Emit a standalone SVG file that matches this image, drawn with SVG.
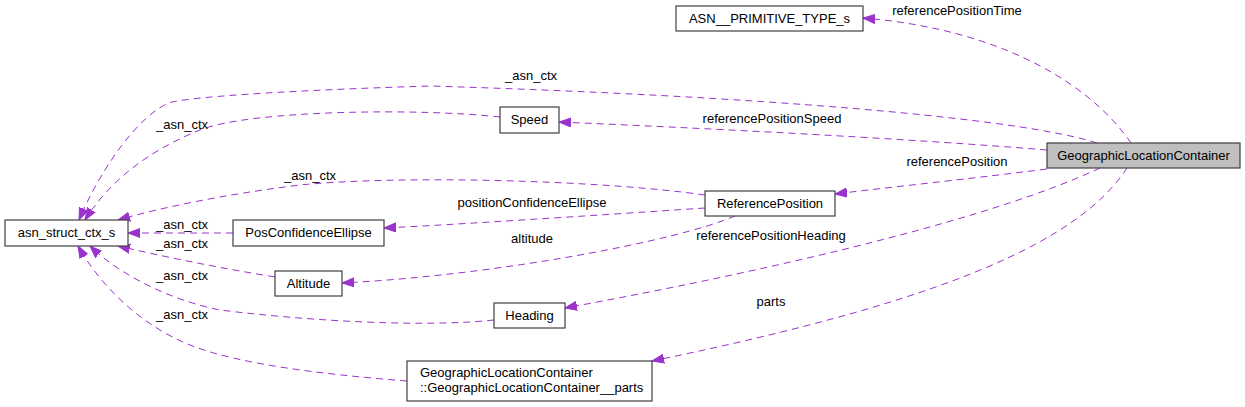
<svg xmlns="http://www.w3.org/2000/svg" width="1245" height="407" viewBox="0 0 1245 407">
<style>
.node rect{fill:#ffffff;stroke:#404040;stroke-width:1.2}
.node text, .lbl{font-family:"Liberation Sans",Arial,sans-serif;font-size:13px;fill:#000}
.node text{text-anchor:middle}
.lbl{text-anchor:middle}
.edge{fill:none;stroke:#9a32cd;stroke-width:1;stroke-dasharray:7,5}
</style>
<defs>
<marker id="arr" markerUnits="userSpaceOnUse" markerWidth="14" markerHeight="11" refX="12" refY="5" orient="auto">
<path d="M0,0.5 L12,5 L0,9.5 z" fill="#9a32cd" stroke="#9a32cd"/>
</marker>
</defs>
<rect width="1245" height="407" fill="#ffffff"/>
<g id="connectors">
<path class="edge" marker-end="url(#arr)" d="M1131,143 C1095,90 1010,30 863,18"/>
<path class="edge" marker-end="url(#arr)" d="M1097,143 C1020,118 760,96 430,86 C300,90 200,96 172,102 C140,112 100,170 79,220"/>
<path class="edge" marker-end="url(#arr)" d="M1047,150 C900,138 700,128 559,122"/>
<path class="edge" marker-end="url(#arr)" d="M1047,169 C960,180 900,186 835,194"/>
<path class="edge" marker-end="url(#arr)" d="M1100,168 C1000,215 800,265 565,308"/>
<path class="edge" marker-end="url(#arr)" d="M1127,168 C1080,240 950,300 652,361"/>
<path class="edge" marker-end="url(#arr)" d="M500,117 C420,108 250,110 200,130 C150,150 110,180 85,220"/>
<path class="edge" marker-end="url(#arr)" d="M705,195 C600,180 400,175 300,185 C220,195 160,208 118,220"/>
<path class="edge" marker-end="url(#arr)" d="M705,208 C600,215 450,225 384,228"/>
<path class="edge" marker-end="url(#arr)" d="M735,216 C680,240 500,275 342,283"/>
<path class="edge" marker-end="url(#arr)" d="M233,233 L128,233"/>
<path class="edge" marker-end="url(#arr)" d="M275,277 C220,268 170,258 118,246"/>
<path class="edge" marker-end="url(#arr)" d="M494,320 C420,328 300,320 220,310 C170,300 120,275 90,246"/>
<path class="edge" marker-end="url(#arr)" d="M407,381 C330,375 240,365 190,345 C140,325 100,285 78,246"/>
<text class="lbl" x="957" y="15">referencePositionTime</text>
<text class="lbl" x="531" y="80">_asn_ctx</text>
<text class="lbl" x="772" y="123">referencePositionSpeed</text>
<text class="lbl" x="957" y="166">referencePosition</text>
<text class="lbl" x="182" y="129">_asn_ctx</text>
<text class="lbl" x="310" y="180">_asn_ctx</text>
<text class="lbl" x="532" y="207">positionConfidenceEllipse</text>
<text class="lbl" x="532" y="243">altitude</text>
<text class="lbl" x="771" y="240">referencePositionHeading</text>
<text class="lbl" x="771" y="306">parts</text>
<text class="lbl" x="182" y="229">_asn_ctx</text>
<text class="lbl" x="182" y="248">_asn_ctx</text>
<text class="lbl" x="182" y="280">_asn_ctx</text>
<text class="lbl" x="182" y="319">_asn_ctx</text>
</g>
<g id="node-glc" class="node">
<rect x="1047" y="143" width="193" height="25" style="fill:#bfbfbf"/>
<text x="1143.5" y="160">GeographicLocationContainer</text>
</g>
<g id="node-primitive" class="node">
<rect x="676" y="6" width="187" height="25"/>
<text x="769.5" y="23">ASN__PRIMITIVE_TYPE_s</text>
</g>
<g id="node-asnctx" class="node">
<rect x="5" y="220" width="123" height="26"/>
<text x="66.5" y="237">asn_struct_ctx_s</text>
</g>
<g id="node-speed" class="node">
<rect x="500" y="107" width="59" height="26"/>
<text x="529.5" y="124">Speed</text>
</g>
<g id="node-refpos" class="node">
<rect x="705" y="191" width="130" height="25"/>
<text x="770" y="208">ReferencePosition</text>
</g>
<g id="node-pce" class="node">
<rect x="233" y="220" width="151" height="26"/>
<text x="308.5" y="237">PosConfidenceEllipse</text>
</g>
<g id="node-altitude" class="node">
<rect x="275" y="271" width="67" height="25"/>
<text x="308.5" y="288">Altitude</text>
</g>
<g id="node-heading" class="node">
<rect x="494" y="303" width="71" height="25"/>
<text x="529.5" y="320">Heading</text>
</g>
<g id="node-parts" class="node">
<rect x="407" y="361" width="245" height="40"/>
<text x="420" y="377" style="text-anchor:start">GeographicLocationContainer</text>
<text x="420" y="392" style="text-anchor:start">::GeographicLocationContainer__parts</text>
</g>
</svg>
